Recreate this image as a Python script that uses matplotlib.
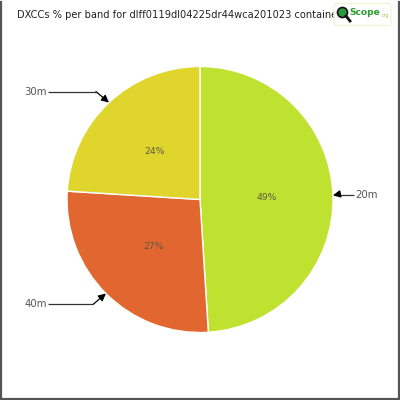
import matplotlib
matplotlib.use("Agg")
import matplotlib.pyplot as plt
from matplotlib.patches import Circle, FancyBboxPatch
import numpy as np

title = "DXCCs % per band for dlff0119dl04225dr44wca201023 container"
bands = ["20m", "40m", "30m"]
shares = [49, 27, 24]
colors = ["#bee22f", "#e2662f", "#e0d52d"]

W = H = 400
fig = plt.figure(figsize=(4, 4), dpi=100)
ax = fig.add_axes([0, 0, 1, 1])

cx, cy, R = 200, 199.5, 133
wedges, texts, autotexts = ax.pie(
    shares, colors=colors, center=(cx, cy), radius=R,
    startangle=-90, counterclock=True,
    autopct=lambda p: f"{p:.0f}%", pctdistance=0.5,
    wedgeprops=dict(edgecolor="white", linewidth=1),
    textprops=dict(color="#5a5a4a", fontsize=6.6, family="DejaVu Sans Condensed"),
    frame=True,
)
ax.set_xlim(0, W)
ax.set_ylim(H, 0)
ax.set_aspect("equal")
ax.axis("off")

total = sum(shares)
cum = 0
for name, v in zip(bands, shares):
    mid = (cum + v / 2) / total * 2 * np.pi  # clockwise from top
    cum += v
    tx = cx + R * np.sin(mid)
    ty = cy - R * np.cos(mid)
    ly = cy - (R + 15) * np.cos(mid)
    right = np.sin(mid) > 0
    dy = abs(ly - ty)
    if right:
        ex = tx + dy + 2
        lx = 354
        ax.text(lx + 1, ly, name, ha="left", va="center", fontsize=7.3,
                color="#555555", family="DejaVu Sans Condensed")
    else:
        ex = tx - dy - 2
        lx = 48
        ax.text(lx - 1, ly, name, ha="right", va="center", fontsize=7.3,
                color="#555555", family="DejaVu Sans Condensed")
    ax.plot([lx, ex], [ly, ly], color="#333333", lw=0.9, solid_capstyle="butt")
    ax.annotate("", xy=(tx, ty), xytext=(ex, ly),
                arrowprops=dict(arrowstyle="-|>", color="#000000", lw=0.9,
                                mutation_scale=11, shrinkA=0, shrinkB=0))

ax.text(17, 15.5, title, ha="left", va="center", fontsize=7.1,
        color="#222222", family="DejaVu Sans Condensed")

# logo
ax.add_patch(FancyBboxPatch((334, 3.5), 57, 22, boxstyle="round,pad=0,rounding_size=3",
                            facecolor="white", edgecolor="#eef3d0", lw=0.8, zorder=5))
ax.add_patch(Circle((342.5, 12.5), 5, facecolor="#2a9b3c", edgecolor="#111111", lw=1.2, zorder=6))
ax.plot([346, 350], [16, 21], color="#111111", lw=2, zorder=6)
ax.text(349, 12.5, "Scope", ha="left", va="center", fontsize=6.6, color="#2f9a2f",
        fontweight="bold", family="DejaVu Sans Condensed", zorder=7)
ax.text(381.5, 15.5, "org", ha="left", va="center", fontsize=3.3, color="#9ccc4a", zorder=7)

# frame
ax.plot([1, 1], [2, 398.5], color="#555555", lw=1.6)
ax.plot([399, 399], [2, 398.5], color="#555555", lw=1.6)
ax.plot([1, 399], [398.5, 398.5], color="#555555", lw=1.6)

fig.savefig("out.png", dpi=100)
